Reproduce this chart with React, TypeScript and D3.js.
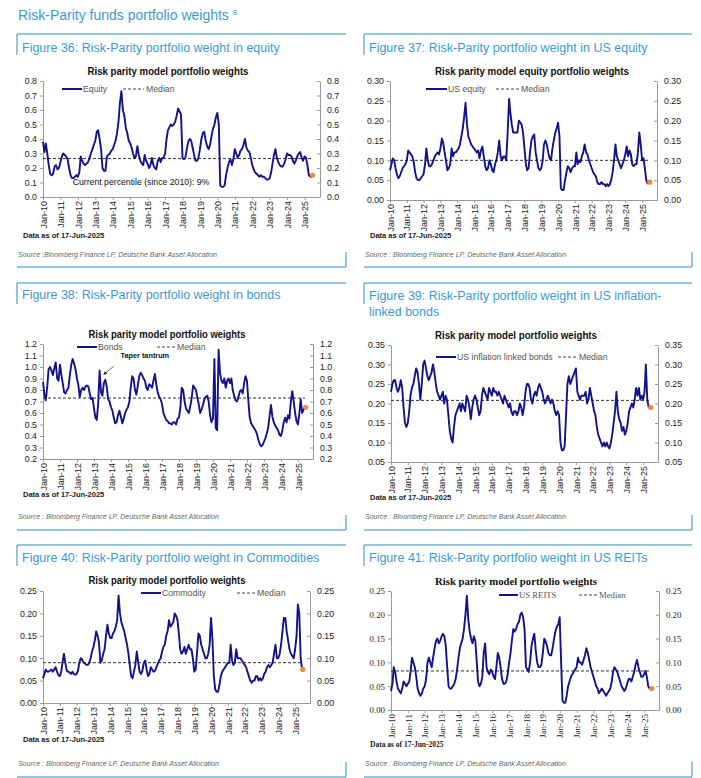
import React, { useEffect, useRef } from 'react';
import * as d3 from 'd3';

// Monthly readings, Jan 2010 .. Jun 2025 (one row per year)
const equity = [
  0.38, 0.31, 0.37, 0.30, 0.22, 0.16, 0.15, 0.16, 0.21, 0.22, 0.19, 0.20,
  0.24, 0.28, 0.30, 0.29, 0.28, 0.26, 0.20, 0.15, 0.13, 0.13, 0.14, 0.15,
  0.14, 0.17, 0.28, 0.25, 0.23, 0.22, 0.23, 0.24, 0.27, 0.30, 0.33, 0.36,
  0.39, 0.45, 0.46, 0.40, 0.33, 0.20, 0.18, 0.18, 0.28, 0.29, 0.30, 0.32,
  0.33, 0.36, 0.39, 0.44, 0.52, 0.65, 0.73, 0.60, 0.56, 0.48, 0.44, 0.39,
  0.37, 0.34, 0.30, 0.27, 0.28, 0.35, 0.29, 0.25, 0.23, 0.22, 0.29, 0.25,
  0.23, 0.20, 0.22, 0.27, 0.22, 0.20, 0.19, 0.25, 0.27, 0.24, 0.27, 0.27,
  0.30, 0.40, 0.46, 0.48, 0.50, 0.49, 0.50, 0.52, 0.56, 0.61, 0.59, 0.57,
  0.27, 0.26, 0.27, 0.33, 0.38, 0.40, 0.39, 0.34, 0.29, 0.25, 0.25, 0.27,
  0.33, 0.40, 0.44, 0.45, 0.39, 0.35, 0.33, 0.36, 0.42, 0.47, 0.50, 0.55,
  0.58, 0.50, 0.08, 0.07, 0.07, 0.08, 0.15, 0.20, 0.24, 0.26, 0.22, 0.26,
  0.33, 0.30, 0.27, 0.29, 0.32, 0.33, 0.36, 0.40, 0.34, 0.32, 0.31, 0.27,
  0.22, 0.19, 0.17, 0.16, 0.15, 0.14, 0.15, 0.14, 0.14, 0.13, 0.12, 0.12,
  0.13, 0.17, 0.23, 0.29, 0.33, 0.27, 0.24, 0.22, 0.21, 0.21, 0.23, 0.26,
  0.30, 0.29, 0.29, 0.28, 0.25, 0.23, 0.25, 0.28, 0.30, 0.31, 0.27, 0.25,
  0.28, 0.27, 0.22, 0.15, 0.14, 0.14,
];

const usEquity = [
  0.075, 0.09, 0.105, 0.10, 0.08, 0.065, 0.055, 0.06, 0.07, 0.08, 0.085, 0.09,
  0.10, 0.125, 0.12, 0.115, 0.11, 0.095, 0.07, 0.055, 0.05, 0.05, 0.055, 0.06,
  0.065, 0.09, 0.13, 0.10, 0.085, 0.085, 0.09, 0.10, 0.11, 0.115, 0.12, 0.115,
  0.13, 0.155, 0.145, 0.12, 0.10, 0.075, 0.08, 0.09, 0.13, 0.11, 0.12, 0.12,
  0.125, 0.13, 0.14, 0.16, 0.18, 0.21, 0.245, 0.19, 0.16, 0.15, 0.14, 0.135,
  0.13, 0.125, 0.12, 0.125, 0.105, 0.125, 0.135, 0.11, 0.085, 0.075, 0.08, 0.10,
  0.09, 0.075, 0.07, 0.09, 0.10, 0.12, 0.15, 0.11, 0.10, 0.11, 0.11, 0.10,
  0.17, 0.255, 0.22, 0.19, 0.17, 0.17, 0.17, 0.17, 0.20, 0.195, 0.19, 0.17,
  0.13, 0.09, 0.075, 0.08, 0.12, 0.15, 0.16, 0.165, 0.12, 0.10, 0.08, 0.075,
  0.08, 0.10, 0.14, 0.15, 0.14, 0.12, 0.105, 0.10, 0.13, 0.15, 0.17, 0.18,
  0.195, 0.16, 0.03, 0.025, 0.025, 0.05, 0.07, 0.085, 0.08, 0.07, 0.08, 0.085,
  0.085, 0.12, 0.09, 0.10, 0.095, 0.11, 0.12, 0.14, 0.12, 0.115, 0.10, 0.09,
  0.08, 0.07, 0.065, 0.06, 0.045, 0.04, 0.04, 0.045, 0.04, 0.04, 0.035, 0.04,
  0.035, 0.04, 0.05, 0.07, 0.10, 0.14, 0.11, 0.10, 0.09, 0.08, 0.09, 0.10,
  0.115, 0.135, 0.11, 0.125, 0.115, 0.09, 0.085, 0.09, 0.09, 0.12, 0.17, 0.14,
  0.10, 0.105, 0.08, 0.05, 0.042, 0.045,
];

const bonds = [
  0.87, 0.76, 0.71, 0.82, 0.98, 1.00, 0.97, 0.93, 0.99, 1.04, 0.90, 0.88,
  1.02, 0.93, 0.86, 0.78, 0.77, 0.80, 0.82, 0.93, 1.02, 1.07, 1.03, 0.98,
  0.90, 0.84, 0.74, 0.80, 0.82, 0.80, 0.83, 0.84, 0.83, 0.77, 0.72, 0.73,
  0.64, 0.56, 0.54, 0.68, 0.97, 0.78, 0.75, 0.86, 0.89, 0.83, 0.72, 0.70,
  0.65, 0.62, 0.56, 0.51, 0.52, 0.58, 0.62, 0.57, 0.51, 0.55, 0.60, 0.63,
  0.65, 0.70, 0.82, 0.92, 0.90, 0.80, 0.76, 0.84, 0.92, 0.95, 0.93, 0.90,
  0.88, 0.82, 0.80, 0.85, 0.84, 0.82, 0.88, 0.94, 0.85, 0.78, 0.74, 0.72,
  0.68, 0.60, 0.57, 0.54, 0.53, 0.51, 0.51, 0.50, 0.52, 0.52, 0.50, 0.55,
  0.56, 0.65, 0.82, 0.80, 0.70, 0.64, 0.62, 0.60, 0.66, 0.73, 0.84, 0.82,
  0.80, 0.73, 0.68, 0.60, 0.63, 0.67, 0.72, 0.74, 0.75, 0.70, 0.58, 0.52,
  0.55, 1.07, 0.47, 0.45, 1.15, 0.95, 0.88, 0.86, 0.90, 0.82, 0.88, 0.90,
  0.86, 0.90, 0.80, 0.75, 0.71, 0.70, 0.74, 0.79, 0.80, 0.77, 0.86, 0.92,
  0.88, 0.70, 0.56, 0.51, 0.49, 0.47, 0.45, 0.42, 0.37, 0.33, 0.31, 0.32,
  0.35, 0.38, 0.42, 0.47, 0.57, 0.67, 0.57, 0.52, 0.49, 0.47, 0.45, 0.41,
  0.40, 0.45, 0.52, 0.56, 0.52, 0.58, 0.55, 0.70, 0.79, 0.70, 0.60, 0.53,
  0.50, 0.60, 0.72, 0.60, 0.63, 0.65,
];

const usInflationLinked = [
  0.23, 0.25, 0.26, 0.26, 0.24, 0.23, 0.24, 0.26, 0.24, 0.19, 0.15, 0.14,
  0.15, 0.18, 0.22, 0.24, 0.25, 0.27, 0.29, 0.28, 0.25, 0.21, 0.25, 0.30,
  0.31, 0.29, 0.27, 0.26, 0.27, 0.28, 0.30, 0.28, 0.25, 0.23, 0.22, 0.21,
  0.22, 0.23, 0.20, 0.22, 0.21, 0.17, 0.13, 0.11, 0.10, 0.14, 0.17, 0.18,
  0.19, 0.20, 0.18, 0.20, 0.19, 0.18, 0.22, 0.21, 0.19, 0.16, 0.19, 0.21,
  0.22, 0.21, 0.19, 0.17, 0.18, 0.22, 0.24, 0.23, 0.22, 0.21, 0.24, 0.23,
  0.22, 0.24, 0.23, 0.23, 0.22, 0.23, 0.22, 0.21, 0.20, 0.22, 0.21, 0.20,
  0.19, 0.20, 0.18, 0.17, 0.18, 0.18, 0.17, 0.18, 0.20, 0.19, 0.17, 0.19,
  0.23, 0.25, 0.25, 0.24, 0.21, 0.20, 0.22, 0.23, 0.22, 0.24, 0.25, 0.24,
  0.23, 0.21, 0.20, 0.21, 0.22, 0.21, 0.20, 0.21, 0.20, 0.18, 0.17, 0.18,
  0.17, 0.10, 0.08, 0.08, 0.09, 0.17, 0.25, 0.27, 0.25, 0.26, 0.27, 0.28,
  0.29, 0.23, 0.22, 0.21, 0.22, 0.22, 0.22, 0.23, 0.20, 0.21, 0.24, 0.22,
  0.20, 0.18, 0.17, 0.14, 0.12, 0.11, 0.10, 0.09, 0.10, 0.09, 0.10, 0.09,
  0.085, 0.10, 0.12, 0.15, 0.18, 0.23, 0.18, 0.16, 0.15, 0.13, 0.14, 0.12,
  0.13, 0.15, 0.18, 0.19, 0.20, 0.19, 0.21, 0.24, 0.22, 0.24, 0.21, 0.22,
  0.21, 0.23, 0.30, 0.21, 0.19, 0.19,
];

const commodity = [
  0.055, 0.065, 0.075, 0.07, 0.07, 0.072, 0.075, 0.07, 0.075, 0.08, 0.07, 0.062,
  0.06, 0.07, 0.09, 0.11, 0.09, 0.072, 0.07, 0.068, 0.065, 0.07, 0.065, 0.063,
  0.065, 0.072, 0.09, 0.10, 0.097, 0.09, 0.088, 0.085, 0.085, 0.09, 0.10, 0.115,
  0.125, 0.14, 0.16, 0.15, 0.135, 0.09, 0.095, 0.11, 0.12, 0.15, 0.175, 0.155,
  0.145, 0.145, 0.155, 0.16, 0.17, 0.185, 0.24, 0.20, 0.18, 0.17, 0.16, 0.145,
  0.13, 0.11, 0.085, 0.06, 0.055, 0.07, 0.085, 0.115, 0.09, 0.07, 0.065, 0.072,
  0.09, 0.095, 0.075, 0.06, 0.065, 0.08, 0.075, 0.07, 0.072, 0.08, 0.088, 0.095,
  0.10, 0.115, 0.125, 0.13, 0.15, 0.16, 0.185, 0.17, 0.175, 0.18, 0.20, 0.195,
  0.185, 0.155, 0.12, 0.11, 0.115, 0.125, 0.11, 0.12, 0.13, 0.12, 0.12, 0.10,
  0.07, 0.075, 0.11, 0.155, 0.15, 0.13, 0.12, 0.11, 0.10, 0.10, 0.11, 0.13,
  0.19, 0.14, 0.06, 0.03, 0.025, 0.025, 0.04, 0.06, 0.07, 0.075, 0.08, 0.085,
  0.09, 0.09, 0.13, 0.095, 0.085, 0.09, 0.12, 0.10, 0.10, 0.10, 0.095, 0.09,
  0.085, 0.08, 0.07, 0.06, 0.05, 0.045, 0.05, 0.05, 0.06, 0.06, 0.05, 0.055,
  0.05, 0.055, 0.065, 0.07, 0.08, 0.085, 0.08, 0.085, 0.09, 0.11, 0.13, 0.10,
  0.10, 0.11, 0.13, 0.16, 0.19, 0.19, 0.16, 0.14, 0.12, 0.11, 0.105, 0.10,
  0.12, 0.15, 0.22, 0.20, 0.10, 0.075,
];

const usReits = [
  0.04, 0.055, 0.09, 0.08, 0.06, 0.045, 0.04, 0.035, 0.045, 0.06, 0.055, 0.05,
  0.055, 0.06, 0.08, 0.11, 0.10, 0.09, 0.07, 0.045, 0.035, 0.03, 0.035, 0.045,
  0.05, 0.065, 0.10, 0.11, 0.10, 0.09, 0.11, 0.13, 0.145, 0.15, 0.14, 0.145,
  0.155, 0.16, 0.155, 0.135, 0.09, 0.05, 0.045, 0.045, 0.05, 0.055, 0.065, 0.085,
  0.11, 0.13, 0.14, 0.15, 0.17, 0.20, 0.24, 0.19, 0.165, 0.15, 0.14, 0.155,
  0.145, 0.10, 0.06, 0.05, 0.055, 0.07, 0.12, 0.14, 0.09, 0.08, 0.075, 0.085,
  0.08, 0.07, 0.065, 0.09, 0.12, 0.11, 0.09, 0.065, 0.055, 0.055, 0.06, 0.075,
  0.10, 0.12, 0.145, 0.17, 0.165, 0.17, 0.18, 0.185, 0.20, 0.205, 0.195, 0.17,
  0.09, 0.085, 0.08, 0.10, 0.135, 0.15, 0.16, 0.125, 0.10, 0.09, 0.09, 0.095,
  0.12, 0.15, 0.145, 0.135, 0.12, 0.115, 0.115, 0.13, 0.15, 0.165, 0.175, 0.18,
  0.195, 0.10, 0.02, 0.015, 0.015, 0.03, 0.05, 0.06, 0.07, 0.075, 0.08, 0.085,
  0.09, 0.11, 0.10, 0.10, 0.095, 0.105, 0.115, 0.13, 0.12, 0.105, 0.09, 0.08,
  0.07, 0.06, 0.05, 0.045, 0.035, 0.04, 0.045, 0.04, 0.035, 0.03, 0.035, 0.04,
  0.045, 0.06, 0.08, 0.09, 0.085, 0.08, 0.07, 0.06, 0.05, 0.045, 0.04, 0.045,
  0.055, 0.065, 0.065, 0.06, 0.07, 0.08, 0.095, 0.105, 0.09, 0.08, 0.07, 0.07,
  0.075, 0.082, 0.07, 0.05, 0.045, 0.045,
];

const medians = {
  equity: 0.265, usEquity: 0.10, bonds: 0.73,
  usInflationLinked: 0.208, commodity: 0.09, usReits: 0.082,
};
const latest = {
  equity: 0.15, usEquity: 0.045, bonds: 0.65,
  usInflationLinked: 0.19, commodity: 0.075, usReits: 0.045,
};

const xTickLabels = [
  'Jan-10', 'Jan-11', 'Jan-12', 'Jan-13', 'Jan-14', 'Jan-15', 'Jan-16', 'Jan-17',
  'Jan-18', 'Jan-19', 'Jan-20', 'Jan-21', 'Jan-22', 'Jan-23', 'Jan-24', 'Jan-25',
];
const equityTicks = [0, 0.1, 0.2, 0.3, 0.4, 0.5, 0.6, 0.7, 0.8];
const usEquityTicks = [0, 0.05, 0.1, 0.15, 0.2, 0.25, 0.3];
const bondTicks = [0.2, 0.3, 0.4, 0.5, 0.6, 0.7, 0.8, 0.9, 1.0, 1.1, 1.2];
const ilbTicks = [0.05, 0.1, 0.15, 0.2, 0.25, 0.3, 0.35];
const commodityTicks = [0, 0.05, 0.1, 0.15, 0.2, 0.25];
const reitTicks = [0, 0.05, 0.1, 0.15, 0.2, 0.25];

const latestDate = new Date(2025, 5, 17);
const xDomain = [new Date(2010, 0, 1), new Date(2025, 10, 20)];
const tickDates = xTickLabels.map((_, i) => new Date(2010 + i, 0, 1));

const SANS = '"Liberation Sans", Arial, Helvetica, sans-serif';
const SERIF = '"Liberation Serif", "Times New Roman", serif';
const BLUE_TEXT = '#3b9ad2';
const BLUE_LINE = '#2a8fc4';
const NAVY = '#12128a';
const AXIS = '#9a9a9a';

const SRC = 'Bloomberg Finance LP, Deutsche Bank Asset Allocation';

const panels = [
  {
    title: ['Figure 36: Risk-Parity portfolio weight in equity'],
    chartTitle: 'Risk parity model portfolio weights', chartTitleW: 161,
    name: 'Equity', values: equity, median: medians.equity, last: latest.equity,
    ticks: equityTicks, fmt: '.1f', serif: false,
    source: 'Source :' + SRC,
    box: { left: 17, right: 346, top: 34, bottom: 267 },
    plot: { x0: 43, x1: 320, top: 81, bottom: 197 },
    titleY: 52, ctX: 168, ctY: 75,
    legend: { line: [62, 82], dash: [123, 144], y: 89 },
    dataY: 238, sourceY: 257,
    note: 'Current percentile (since 2010): 9%',
  },
  {
    title: ['Figure 37: Risk-Parity portfolio weight in US equity'],
    chartTitle: 'Risk parity model equity portfolio weights', chartTitleW: 194,
    name: 'US equity', values: usEquity, median: medians.usEquity, last: latest.usEquity,
    ticks: usEquityTicks, fmt: '.2f', serif: false,
    source: 'Source : ' + SRC,
    box: { left: 364, right: 692, top: 34, bottom: 267 },
    plot: { x0: 390, x1: 657, top: 81, bottom: 200 },
    titleY: 52, ctX: 532, ctY: 75,
    legend: { line: [426, 447], dash: [496, 519], y: 89 },
    dataY: 238, sourceY: 257,
  },
  {
    title: ['Figure 38: Risk-Parity portfolio weight in bonds'],
    chartTitle: 'Risk parity model portfolio weights', chartTitleW: 157,
    name: 'Bonds', values: bonds, median: medians.bonds, last: latest.bonds,
    ticks: bondTicks, fmt: '.1f', serif: false,
    source: 'Source : ' + SRC,
    box: { left: 17, right: 346, top: 283, bottom: 530 },
    plot: { x0: 43, x1: 313, top: 344, bottom: 459 },
    titleY: 299, ctX: 167, ctY: 338,
    legend: { line: [77, 97], dash: [157, 175], y: 347 },
    dataY: 497, sourceY: 519,
    taper: 'Taper tantrum',
  },
  {
    title: ['Figure 39: Risk-Parity portfolio weight in US inflation-', 'linked bonds'],
    chartTitle: 'Risk parity model portfolio weights', chartTitleW: 162,
    name: 'US inflation linked bonds', values: usInflationLinked,
    median: medians.usInflationLinked, last: latest.usInflationLinked,
    ticks: ilbTicks, fmt: '.2f', serif: false,
    source: 'Source : ' + SRC,
    box: { left: 364, right: 692, top: 283, bottom: 530 },
    plot: { x0: 391, x1: 658, top: 345, bottom: 462 },
    titleY: 300, ctX: 516, ctY: 339,
    legend: { line: [436, 456], dash: [558, 577], y: 357 },
    dataY: 500, sourceY: 519,
  },
  {
    title: ['Figure 40: Risk-Parity portfolio weight in Commodities'],
    chartTitle: 'Risk parity model portfolio weights', chartTitleW: 157,
    name: 'Commodity', values: commodity, median: medians.commodity, last: latest.commodity,
    ticks: commodityTicks, fmt: '.2f', serif: false,
    source: 'Source : ' + SRC,
    box: { left: 17, right: 346, top: 545, bottom: 777 },
    plot: { x0: 43, x1: 310, top: 591, bottom: 703 },
    titleY: 562, ctX: 167, ctY: 584,
    legend: { line: [141, 161], dash: [237, 255], y: 593 },
    dataY: 742, sourceY: 766,
  },
  {
    title: ['Figure 41: Risk-Parity portfolio weight in US REITs'],
    chartTitle: 'Risk parity model portfolio weights', chartTitleW: 162,
    name: 'US REITS', values: usReits, median: medians.usReits, last: latest.usReits,
    ticks: reitTicks, fmt: '.2f', serif: true,
    source: 'Source : ' + SRC,
    box: { left: 364, right: 692, top: 545, bottom: 777 },
    plot: { x0: 391, x1: 659, top: 591, bottom: 710 },
    titleY: 562, ctX: 516, ctY: 585,
    legend: { line: [499, 518], dash: [579, 597], y: 595 },
    dataY: 747, sourceY: 766,
  },
];

type Panel = (typeof panels)[0] & { note?: string; taper?: string };

function drawPanel(svg: d3.Selection<SVGSVGElement, unknown, null, undefined>, p: Panel) {
  const g = svg.append('g');
  const font = p.serif ? SERIF : SANS;
  const { box, plot } = p;

  // frame corners
  g.append('path')
    .attr('d', `M${box.left},${box.top + 21}V${box.top}H${box.right}`)
    .attr('fill', 'none').attr('stroke', BLUE_LINE).attr('stroke-width', 1);
  g.append('path')
    .attr('d', `M${box.left},${box.bottom}H${box.right}V${box.bottom - 15}`)
    .attr('fill', 'none').attr('stroke', BLUE_LINE).attr('stroke-width', 1);

  p.title.forEach((t, i) => {
    g.append('text')
      .attr('x', box.left + 5).attr('y', p.titleY + i * 16)
      .attr('font-family', SANS).attr('font-size', 12.5)
      .attr('fill', BLUE_TEXT).text(t);
  });

  g.append('text')
    .attr('x', p.ctX).attr('y', p.ctY)
    .attr('text-anchor', 'middle')
    .attr('font-family', font).attr('font-weight', 'bold').attr('font-size', 10.5)
    .attr('textLength', p.chartTitleW).attr('lengthAdjust', 'spacingAndGlyphs')
    .attr('fill', '#111').text(p.chartTitle);

  const x = d3.scaleTime().domain(xDomain).range([plot.x0, plot.x1]);
  const y = d3.scaleLinear()
    .domain([p.ticks[0], p.ticks[p.ticks.length - 1]])
    .range([plot.bottom, plot.top]);
  const fmt = d3.format(p.fmt);

  const styleAxis = (a: d3.Selection<SVGGElement, unknown, null, undefined>, size: number) => {
    a.select('.domain').attr('stroke', AXIS);
    a.selectAll('.tick line').attr('stroke', AXIS);
    a.selectAll('.tick text')
      .attr('fill', '#222')
      .attr('font-family', font)
      .attr('font-size', size);
  };

  const yl = g.append('g')
    .attr('transform', `translate(${plot.x0},0)`)
    .call(d3.axisLeft(y).tickValues(p.ticks).tickFormat(d => fmt(d as number))
      .tickSizeInner(3).tickSizeOuter(0).tickPadding(3));
  styleAxis(yl, 8.8);

  const yr = g.append('g')
    .attr('transform', `translate(${plot.x1},0)`)
    .call(d3.axisRight(y).tickValues(p.ticks).tickFormat(d => fmt(d as number))
      .tickSizeInner(-3).tickSizeOuter(0).tickPadding(7));
  styleAxis(yr, 8.8);

  const xa = g.append('g')
    .attr('transform', `translate(0,${plot.bottom})`)
    .call(d3.axisBottom(x).tickValues(tickDates)
      .tickFormat((_, i) => xTickLabels[i])
      .tickSizeInner(3).tickSizeOuter(0));
  styleAxis(xa, 9);
  xa.selectAll('.tick text')
    .attr('transform', 'rotate(-90)')
    .attr('text-anchor', 'end')
    .attr('x', -4).attr('y', 0).attr('dy', '0.35em');

  const series = p.values.map((v, i) => ({ date: new Date(2010, i, 1), value: v }));
  const first = series[0].date;
  const lastDate = series[series.length - 1].date;

  // median
  g.append('line')
    .attr('x1', x(first)).attr('x2', x(lastDate))
    .attr('y1', y(p.median)).attr('y2', y(p.median))
    .attr('stroke', '#333').attr('stroke-width', 1)
    .attr('stroke-dasharray', '3,2');

  const line = d3.line<{ date: Date; value: number }>()
    .x(d => x(d.date))
    .y(d => y(d.value));

  g.append('path')
    .datum(series)
    .attr('d', line)
    .attr('fill', 'none')
    .attr('stroke', NAVY)
    .attr('stroke-width', 1.9)
    .attr('stroke-linejoin', 'round');

  g.append('circle')
    .attr('cx', x(latestDate)).attr('cy', y(p.last))
    .attr('r', 2.6).attr('fill', '#f08a3c');

  // legend
  const lg = p.legend;
  g.append('line')
    .attr('x1', lg.line[0]).attr('x2', lg.line[1]).attr('y1', lg.y).attr('y2', lg.y)
    .attr('stroke', NAVY).attr('stroke-width', 2);
  g.append('text')
    .attr('x', lg.line[1] + 1).attr('y', lg.y + 3)
    .attr('font-family', font).attr('font-size', 8.7).attr('fill', '#555')
    .text(p.name);
  g.append('line')
    .attr('x1', lg.dash[0]).attr('x2', lg.dash[1]).attr('y1', lg.y).attr('y2', lg.y)
    .attr('stroke', '#444').attr('stroke-width', 1).attr('stroke-dasharray', '3,2');
  g.append('text')
    .attr('x', lg.dash[1] + 2).attr('y', lg.y + 3)
    .attr('font-family', font).attr('font-size', 8.7).attr('fill', '#555')
    .text('Median');

  if (p.note) {
    g.append('text')
      .attr('x', x(new Date(2011, 8, 15))).attr('y', y(0.085))
      .attr('font-family', font).attr('font-size', 8.7).attr('fill', '#111')
      .text(p.note);
  }

  if (p.taper) {
    const tipX = x(new Date(2013, 4, 1)) + 4;
    const tipY = y(0.97) + 4;
    g.append('line')
      .attr('x1', tipX + 10).attr('y1', tipY - 8)
      .attr('x2', tipX).attr('y2', tipY)
      .attr('stroke', '#222').attr('stroke-width', 0.7)
      .attr('marker-end', 'url(#arrowhead)');
    g.append('text')
      .attr('x', tipX + 17).attr('y', tipY - 16)
      .attr('font-family', font).attr('font-weight', 'bold').attr('font-size', 7.3)
      .attr('fill', '#111').text(p.taper);
  }

  g.append('text')
    .attr('x', box.left + 6).attr('y', p.dataY)
    .attr('font-family', font).attr('font-weight', 'bold').attr('font-size', 7.5)
    .attr('fill', '#222').text('Data as of 17-Jun-2025');

  g.append('text')
    .attr('x', box.left + 1).attr('y', p.sourceY)
    .attr('font-family', SANS).attr('font-style', 'italic').attr('font-size', 7)
    .attr('fill', '#666').text(p.source);
}

export default function App() {
  const svgRef = useRef<SVGSVGElement>(null);

  useEffect(() => {
    if (!svgRef.current) return;
    const svg = d3.select(svgRef.current);
    svg.selectAll('*').remove();

    svg.append('rect').attr('width', 701).attr('height', 778).attr('fill', '#fff');

    svg.append('defs')
      .append('marker')
      .attr('id', 'arrowhead')
      .attr('viewBox', '0 0 10 10')
      .attr('refX', 9).attr('refY', 5)
      .attr('markerWidth', 5).attr('markerHeight', 5)
      .attr('orient', 'auto')
      .append('path')
      .attr('d', 'M0,0L10,5L0,10z')
      .attr('fill', '#222');

    const head = svg.append('text')
      .attr('x', 18).attr('y', 20)
      .attr('font-family', SANS).attr('font-size', 14)
      .attr('fill', BLUE_TEXT);
    head.append('tspan').text('Risk-Parity funds portfolio weights ');
    head.append('tspan').attr('font-size', 8).attr('dy', -5).text('8');

    panels.forEach(p => drawPanel(svg, p as Panel));
  }, []);

  return (
    <svg
      ref={svgRef}
      width={701}
      height={778}
      style={{ position: 'absolute', left: 0, top: 0, display: 'block' }}
    />
  );
}
